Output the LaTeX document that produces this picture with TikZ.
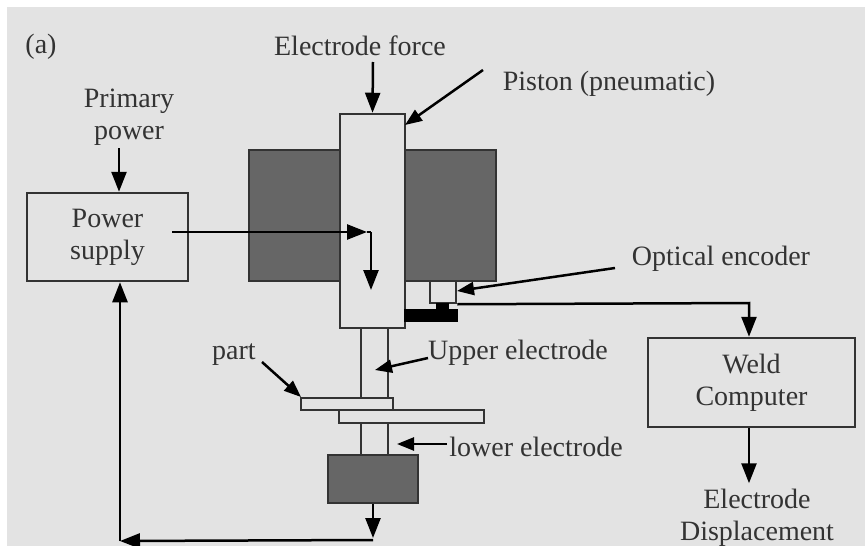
\documentclass[tikz,border=0pt]{standalone}
\usepackage{fontspec}
\setmainfont{Liberation Serif}
\usetikzlibrary{arrows.meta,positioning}
\definecolor{panelgray}{HTML}{E3E3E3}
\definecolor{blockgray}{HTML}{666666}
\definecolor{linegray}{HTML}{333333}
\tikzset{
  every node/.style={
    font=\fontsize{28}{32}\selectfont,
    text=black!80
  },
  caption/.style={
    align=center,
    inner sep=0pt
  },
  box/.style={
    shape=rectangle,
    draw=linegray,
    line width=2.5pt,
    inner sep=0pt,
    align=center
  },
  block/.style={
    box,
    fill=blockgray
  },
  plate/.style={
    box,
    fill=panelgray
  },
  wire/.style={
    draw=black,
    line width=2.5pt
  },
  feed/.style={
    wire,
    -{Triangle[length=20pt,width=15pt]}
  },
  pointer/.style={
    wire,
    -{Triangle[length=17pt,width=13pt]}
  }
}

\begin{document}
\begin{tikzpicture}[x=1pt,y=-1pt]
    \useasboundingbox (0,0) rectangle (865,546);
    \fill [panelgray] (7,7) rectangle (865,546);

    % press body
    \node [block, minimum width=247pt, minimum height=131pt] (cylinder) at (372.5,215.5) {};
    \node [plate, minimum width=65pt, minimum height=214pt] (piston) at (372.5,221) {};

    % electrodes and parts
    \node [plate, minimum width=27pt, minimum height=70pt] (upperelectrode) at (374.5,363) {};
    \node [plate, minimum width=27pt, minimum height=32pt] (lowerelectrode) at (374.5,439) {};
    \node [plate, minimum width=92pt, minimum height=12pt] (upperpart) at (347,404) {};
    \node [plate, minimum width=145pt, minimum height=13pt] (lowerpart) at (411.5,416.5) {};
    \node [block, minimum width=90pt, minimum height=48pt] (anvil) at (373,479) {};

    % encoder
    \node [plate, minimum width=26pt, minimum height=22pt] (encoder) at (443,292) {};
    \node [box, fill=black, draw=black, minimum width=52pt, minimum height=11pt] (scale) at (431,315.5) {};
    \node [box, fill=black, draw=black, minimum width=11pt, minimum height=6pt] (slider) at (442.5,307) {};

    % boxes
    \node [box, minimum width=161pt, minimum height=88pt] (supply) at (107.5,237) {Power\\supply};
    \node [box, minimum width=207pt, minimum height=89pt] (computer) at (751.5,382.5) {Weld\\Computer};

    % labels
    \node [caption] (panel) at (41,47) {(a)};
    \node [caption] (force) at (360,46) {Electrode force};
    \node [caption] (pistonlabel) at (609,84) {Piston (pneumatic)};
    \node [caption] (primary) at (129,117) {Primary\\power};
    \node [caption] (encoderlabel) at (721,259) {Optical encoder};
    \node [caption] (upperlabel) at (518,353) {Upper electrode};
    \node [caption] (partlabel) at (234,355) {part};
    \node [caption] (lowerlabel) at (536,447) {lower electrode};
    \node [caption] (displacement) at (757,518) {Electrode\\Displacement};

    % free ends of the connectors
    \coordinate (forcestart) at (373,62);
    \coordinate (powerstart) at (119,148);
    \coordinate (feedstart) at (172,232);
    \coordinate (feedcorner) at (371,232);
    \coordinate (feedtip) at (371,290);
    \coordinate (returncorner) at (373,540);
    \coordinate (returnleft) at (120,541);
    \coordinate (signalcorner) at (749,303);

    % connectors
    \draw [feed] (forcestart) -- (piston.north);
    \draw [feed] (powerstart) -- (supply.north -| powerstart);
    \draw [feed] (feedstart) -- (367,232);
    \draw [wire] (feedcorner) -- (367,232);
    \draw [feed] (feedcorner) -- (feedtip);
    \draw [feed] (anvil.south) -- (373,538);
    \draw [feed] (returncorner) -- (returnleft);
    \draw [feed] (returnleft) -- (supply.south -| returnleft);
    \draw [feed] (encoder.south east) -- (signalcorner) -- (computer.north -| signalcorner);
    \draw [feed] (computer.south -| signalcorner) -- ++(0,55);
    \draw [pointer] (483,70) -- (405,125);
    \draw [pointer] (615,268) -- (457,291);
    \draw [pointer] (428,358) -- (375,370);
    \draw [pointer] (262,362) -- (301,397);
    \draw [pointer] (447,444) -- (397,444);
\end{tikzpicture}
\end{document}
